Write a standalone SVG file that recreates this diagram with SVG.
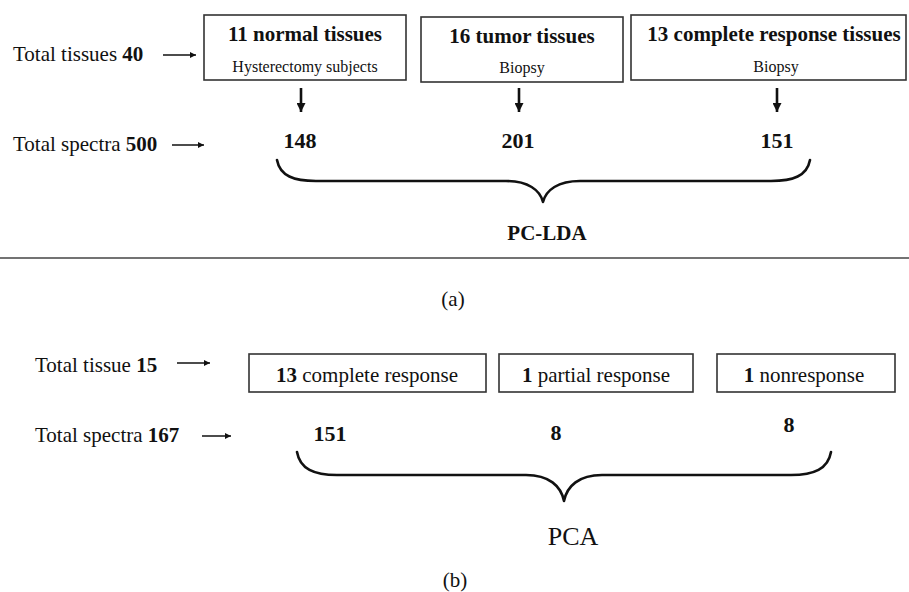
<svg xmlns="http://www.w3.org/2000/svg" width="909" height="592" viewBox="0 0 909 592">
<style>
text{font-family:"Liberation Serif","Times New Roman",serif;fill:#111}
.lbl{font-size:21px}
.b{font-weight:bold}
.ttl{font-size:21px;font-weight:bold;text-anchor:middle}
.sub{font-size:16px;text-anchor:middle}
.num{font-size:22px;font-weight:bold;text-anchor:middle}
.box{fill:#fff;stroke:#333;stroke-width:1.6}
.harr{stroke:#111;stroke-width:1.5;fill:none}
.varr{stroke:#111;stroke-width:2.6;fill:none}
.brace{stroke:#111;stroke-width:2.6;fill:none;stroke-linecap:round;stroke-linejoin:round}
.cap{font-size:21px;text-anchor:middle}
</style>
<defs>
<marker id="ha" viewBox="0 0 10 10" refX="10" refY="5" markerWidth="6" markerHeight="6" markerUnits="userSpaceOnUse" orient="auto"><path d="M0,0 L10,5 L0,10 z" fill="#111"/></marker>
<marker id="va" viewBox="0 0 10 10" refX="10" refY="5" markerWidth="9" markerHeight="9" markerUnits="userSpaceOnUse" orient="auto"><path d="M0,0 L10,5 L0,10 z" fill="#111"/></marker>
</defs>

<g id="labels-a">
<text class="lbl" x="13" y="61">Total tissues <tspan class="b">40</tspan></text>
<text class="lbl" x="13" y="151">Total spectra <tspan class="b">500</tspan></text>
</g>

<g id="node-normal">
<rect class="box" x="204" y="15" width="202" height="65"/>
<text class="ttl" x="305" y="41">11 normal tissues</text>
<text class="sub" x="305" y="72">Hysterectomy subjects</text>
</g>
<g id="node-tumor">
<rect class="box" x="421" y="17" width="202" height="65"/>
<text class="ttl" x="522" y="43">16 tumor tissues</text>
<text class="sub" x="522" y="73">Biopsy</text>
</g>
<g id="node-cr">
<rect class="box" x="631" y="15" width="275" height="65"/>
<text class="ttl" x="774" y="41">13 complete response tissues</text>
<text class="sub" x="776" y="72">Biopsy</text>
</g>

<g id="counts-a">
<text class="num" x="300" y="148">148</text>
<text class="num" x="518" y="148">201</text>
<text class="num" x="777" y="148">151</text>
</g>

<g id="connectors">
<line class="harr" x1="163" y1="55" x2="196" y2="55" marker-end="url(#ha)"/>
<line class="harr" x1="172" y1="145" x2="204" y2="145" marker-end="url(#ha)"/>
<line class="varr" x1="301" y1="88" x2="301" y2="112" marker-end="url(#va)"/>
<line class="varr" x1="519" y1="88" x2="519" y2="112" marker-end="url(#va)"/>
<line class="varr" x1="777" y1="88" x2="777" y2="112" marker-end="url(#va)"/>
<path class="brace" d="M277,160 C280,176 294,181 316,181 L506,181 C528,181 540,190 543,202 C546,190 558,181 580,181 L771,181 C793,181 807,176 810,160"/>
<line class="harr" x1="177" y1="363" x2="210" y2="363" marker-end="url(#ha)"/>
<line class="harr" x1="202" y1="436" x2="231" y2="436" marker-end="url(#ha)"/>
<path class="brace" d="M297,452 C300,469 314,475 337,475 L526,475 C549,475 561,486 564,501 C567,486 579,475 602,475 L791,475 C814,475 828,469 831,452"/>
</g>

<g id="method-a">
<text class="ttl" x="547" y="240">PC-LDA</text>
</g>
<line x1="0" y1="258" x2="909" y2="258" stroke="#444" stroke-width="1.6"/>
<text class="cap" x="453" y="306">(a)</text>

<g id="labels-b">
<text class="lbl" x="35" y="372">Total tissue <tspan class="b">15</tspan></text>
<text class="lbl" x="35" y="442">Total spectra <tspan class="b">167</tspan></text>
</g>

<g id="node-b-cr">
<rect class="box" x="249" y="354" width="237" height="38"/>
<text class="lbl" x="367" y="382" text-anchor="middle"><tspan class="b">13</tspan> complete response</text>
</g>
<g id="node-b-pr">
<rect class="box" x="499" y="354" width="194" height="38"/>
<text class="lbl" x="596" y="382" text-anchor="middle"><tspan class="b">1</tspan> partial response</text>
</g>
<g id="node-b-nr">
<rect class="box" x="717" y="354" width="178" height="38"/>
<text class="lbl" x="804" y="382" text-anchor="middle"><tspan class="b">1</tspan> nonresponse</text>
</g>

<g id="counts-b">
<text class="num" x="330" y="441">151</text>
<text class="num" x="556" y="440">8</text>
<text class="num" x="789" y="432">8</text>
</g>

<g id="method-b">
<text x="573" y="545" font-size="26" text-anchor="middle">PCA</text>
</g>
<text class="cap" x="455" y="587">(b)</text>
</svg>
